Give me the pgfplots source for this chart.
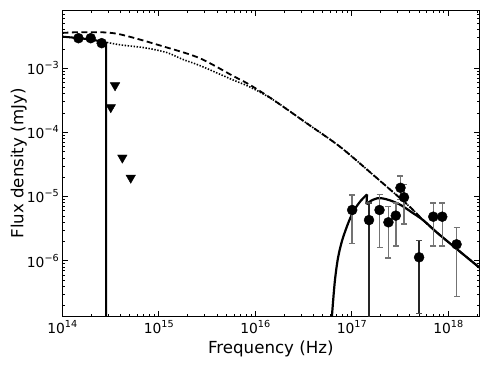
\documentclass[border=0pt]{standalone}
\usepackage{pgfplots}
\pgfplotsset{compat=1.18}
\usepackage{fontspec}
\setmainfont{DejaVu Sans}
% power-of-ten tick label in the text font
\newcommand{\pw}[1]{10\raisebox{0.43em}{\fontsize{9.7}{10}\selectfont #1}}

\begin{document}
\begin{tikzpicture}
\begin{axis}[
    name=ax,
    scale only axis,
    width=417bp, height=306.4bp,
    xmode=log, ymode=log,
    xmin=1e14, xmax=2.1e18,
    ymin=1.34e-7, ymax=8e-3,
    xtick={1e14,1e15,1e16,1e17,1e18},
    xticklabels={\pw{14},\pw{15},\pw{16},\pw{17},\pw{18}},
    ytick={1e-6,1e-5,1e-4,1e-3},
    yticklabels={\pw{−6},\pw{−5},\pw{−4},\pw{−3}},
    minor xtick={2e14,3e14,4e14,5e14,6e14,7e14,8e14,9e14,
                 2e15,3e15,4e15,5e15,6e15,7e15,8e15,9e15,
                 2e16,3e16,4e16,5e16,6e16,7e16,8e16,9e16,
                 2e17,3e17,4e17,5e17,6e17,7e17,8e17,9e17,2e18},
    minor ytick={2e-7,3e-7,4e-7,5e-7,6e-7,7e-7,8e-7,9e-7,
                 2e-6,3e-6,4e-6,5e-6,6e-6,7e-6,8e-6,9e-6,
                 2e-5,3e-5,4e-5,5e-5,6e-5,7e-5,8e-5,9e-5,
                 2e-4,3e-4,4e-4,5e-4,6e-4,7e-4,8e-4,9e-4,
                 2e-3,3e-3,4e-3,5e-3,6e-3,7e-3},
    tick pos=both, tick align=inside,
    major tick length=5.6bp, minor tick length=2.8bp,
    every tick/.style={black, line width=0.7bp},
    axis line style={line width=1.2bp},
    ticklabel style={font=\fontsize{13.9}{16}\selectfont},
    label style={font=\fontsize{16.7}{20}\selectfont},
    xlabel={Frequency (Hz)},
    ylabel={Flux density (mJy)},
    xlabel style={at={(axis description cs:0.5,-0.1195)}, anchor=base},
    ylabel style={at={(axis description cs:-0.0935,0.5)}, anchor=base},
]

% dashed model
\addplot[black, line width=1.8bp, dash pattern=on 6bp off 3.5bp, smooth, tension=0.5] coordinates {
  (1e14,3.55e-3) (1.64e14,3.65e-3) (3.69e14,3.45e-3) (1.22e15,2.1e-3)
  (2.67e15,1.43e-3) (5.87e15,7.60e-4) (8.81e15,5.50e-4) (1.54e16,3.21e-4)
  (3.41e16,1.39e-4) (7.55e16,5.98e-5) (1.67e17,2.17e-5) (2.49e17,1.29e-5)
  (3.55e17,8.13e-6) (4.47e17,5.89e-6) (5.51e17,4.27e-6) (8.2e17,2.51e-6)
  (2.1e18,7.83e-7)
};

% dotted model
\addplot[black, line width=1.6bp, dash pattern=on 1.4bp off 1.6bp, smooth, tension=0.5] coordinates {
  (1e14,3.11e-3) (1.5e14,2.95e-3) (2e14,2.8e-3) (2.78e14,2.55e-3)
  (4.13e14,2.3e-3) (6.65e14,2.12e-3) (8.11e14,2.02e-3) (1.22e15,1.75e-3)
  (1.78e15,1.37e-3) (2.67e15,1.1e-3) (5.87e15,6.58e-4) (8.81e15,5.1e-4)
  (1.54e16,3.21e-4) (3.41e16,1.39e-4) (7.55e16,5.98e-5) (1.67e17,2.17e-5)
  (2.49e17,1.29e-5) (3.55e17,8.13e-6) (4.47e17,5.89e-6) (5.51e17,4.27e-6)
  (8.2e17,2.51e-6) (2.1e18,7.83e-7)
};

% solid model, optical part
\addplot[black, line width=2bp, line join=round] coordinates {
  (1e14,3.11e-3) (1.48e14,2.95e-3) (2.0e14,2.79e-3) (2.5e14,2.63e-3)
  (2.78e14,2.55e-3) (2.85e14,2.45e-3) (2.85e14,1e-8)
};

% solid model, X-ray part: rise to first peak
\addplot[black, line width=2.2bp, smooth, tension=0.5] coordinates {
  (6.0e16,6.0e-8) (6.3e16,1.7e-7) (6.7e16,5.0e-7) (7.2e16,1.1e-6)
  (7.9e16,2.0e-6) (8.9e16,3.4e-6) (1.0e17,5.2e-6) (1.12e17,7.0e-6)
  (1.25e17,8.7e-6) (1.44e17,1.08e-5)
};
% drop and the rest
\addplot[black, line width=2.2bp, line join=round] coordinates {
  (1.44e17,1.08e-5) (1.42e17,7.6e-6)
};
\addplot[black, line width=2.2bp, smooth, tension=0.5] coordinates {
  (1.42e17,7.6e-6) (1.585e17,8.6e-6) (1.83e17,9.38e-6) (2.06e17,9.38e-6)
  (2.51e17,8.7e-6) (3.23e17,7.36e-6) (4.11e17,5.79e-6) (5.51e17,4.27e-6)
  (8.2e17,2.51e-6) (2.1e18,7.83e-7)
};

% optical detections
\addplot[only marks, mark=*, mark size=5bp, black] coordinates {
  (1.47e14,2.94e-3) (1.97e14,2.94e-3) (2.56e14,2.46e-3)
};

% upper limits
\addplot[only marks, mark=triangle*, mark size=5.5bp, black, mark options={rotate=180}] coordinates {
  (3.52e14,5.4e-4) (3.18e14,2.46e-4) (4.19e14,4.03e-5) (5.12e14,1.96e-5)
};

% X-ray detections, grey error bars
\addplot[only marks, mark=*, mark size=5bp, black,
  error bars/.cd, y dir=both, y explicit,
  error bar style={draw=black!55, line width=1.5bp},
  error mark options={draw=black!55, line width=1.5bp, mark size=3bp, rotate=90}]
coordinates {
  (1.01e17,6.17e-6) += (0,4.43e-6) -= (0,4.3e-6)
  (1.94e17,6.17e-6) += (0,4.63e-6) -= (0,4.55e-6)
  (2.40e17,3.97e-6) += (0,2.98e-6) -= (0,2.87e-6)
  (2.86e17,5.04e-6) += (0,2.86e-6) -= (0,3.35e-6)
  (3.20e17,1.37e-5) += (0,7.2e-6) -= (0,4.7e-6)
  (3.48e17,9.73e-6) += (0,5.8e-6) -= (0,6.0e-6)
  (7.0e17,4.85e-6) += (0,3.15e-6) -= (0,3.16e-6)
  (8.67e17,4.85e-6) += (0,3.15e-6) -= (0,3.16e-6)
  (1.22e18,1.80e-6) += (0,1.52e-6) -= (0,1.525e-6)
};

% X-ray detections, dark error bars
\addplot[only marks, mark=*, mark size=5bp, black,
  error bars/.cd, y dir=both, y explicit,
  error bar style={draw=black!85, line width=1.5bp},
  error mark options={draw=black!70, line width=1.5bp, mark size=3bp, rotate=90}]
coordinates {
  (1.51e17,4.3e-6) += (0,3.6e-6) -= (0,4.29e-6)
  (4.99e17,1.13e-6) += (0,0.95e-6) -= (0,0.979e-6)
};

\end{axis}
\pgfresetboundingbox
\path[use as bounding box] ([xshift=-62.3bp,yshift=-51.3bp]ax.south west)
  rectangle ([xshift=11.7bp,yshift=10.3bp]ax.north east);
\end{tikzpicture}
\end{document}
